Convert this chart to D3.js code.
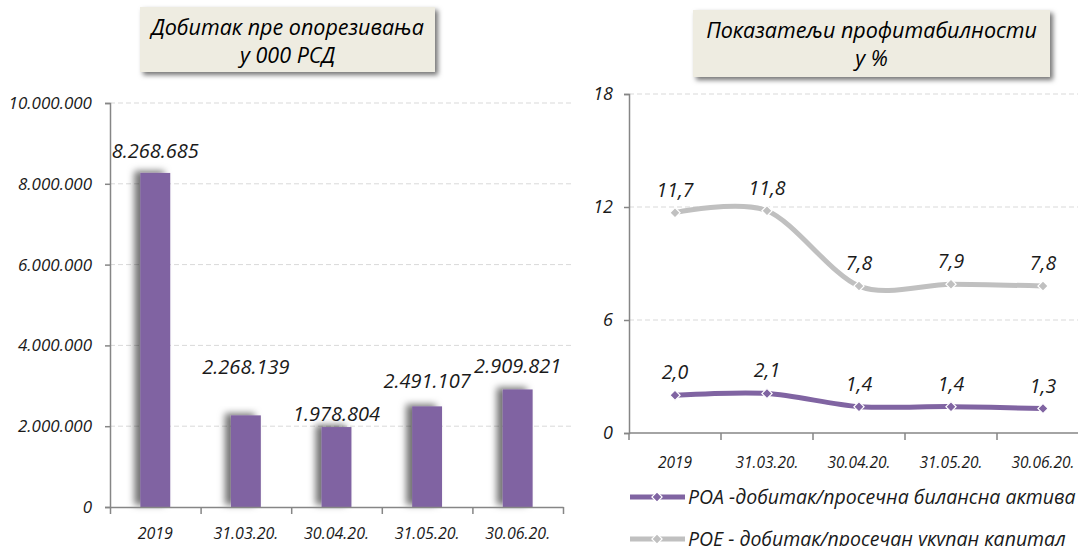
<!DOCTYPE html>
<html>
<head>
<meta charset="utf-8">
<script src="https://cdn.jsdelivr.net/npm/d3@7"></script>
<style>
  html, body { margin: 0; padding: 0; background: #fff; }
  svg { display: block; font-family: "Open Sans", "DejaVu Sans", sans-serif; font-style: italic; }
  svg text { font-family: "Open Sans", "DejaVu Sans", sans-serif; font-style: italic; }
</style>
</head>
<body>
<svg id="chart" width="1081" height="546"></svg>
<script>
// podaci
const categories = ['2019', '31.03.20.', '30.04.20.', '31.05.20.', '30.06.20.'];
const profit = [8268685, 2268139, 1978804, 2491107, 2909821];
const roa = [2.0, 2.1, 1.4, 1.4, 1.3];
const roe = [11.7, 11.8, 7.8, 7.9, 7.8];
const profitTicks = [0, 2000000, 4000000, 6000000, 8000000, 10000000];
const ratioTicks = [0, 6, 12, 18];
const seriesNames = ['РОА -добитак/просечна билансна актива', 'РОЕ - добитак/просечан укупан капитал'];

const loc = d3.formatLocale({ decimal: ',', thousands: '.', grouping: [3], currency: ['', ''] });
const fmtInt = loc.format(',d');
const fmtDec = loc.format('.1f');

const svg = d3.select('#chart');
const PURPLE = '#8064A2', GRAY = '#C0C0C0', AXIS = '#868686', GRID = '#D9D9D9', TXT = '#1a1a1a';

const defs = svg.append('defs');
defs.append('filter').attr('id', 'boxShadow').attr('x', '-10%').attr('y', '-20%').attr('width', '130%').attr('height', '160%')
  .append('feDropShadow').attr('dx', 3).attr('dy', 3).attr('stdDeviation', 2.5)
  .attr('flood-color', '#000').attr('flood-opacity', 0.55);
defs.append('filter').attr('id', 'barShadow').attr('x', '-80%').attr('y', '-10%').attr('width', '200%').attr('height', '120%')
  .append('feDropShadow').attr('dx', -6).attr('dy', -2).attr('stdDeviation', 3.5)
  .attr('flood-color', '#000').attr('flood-opacity', 0.55);

function titleBox(x, y, w, h, lines, size) {
  const g = svg.append('g');
  g.append('rect').attr('x', x).attr('y', y).attr('width', w).attr('height', h)
    .attr('fill', '#EEECE1').attr('filter', 'url(#boxShadow)');
  lines.forEach((t, i) => {
    g.append('text').attr('x', x + w / 2).attr('y', y + 28 + i * 28)
      .attr('text-anchor', 'middle').attr('font-size', size).attr('fill', '#000').text(t);
  });
}

function styleAxis(g, size) {
  g.attr('font-family', null).attr('font-size', null);
  g.select('.domain').attr('stroke', AXIS).attr('stroke-width', 1.5);
  g.selectAll('.tick line').attr('stroke', AXIS).attr('stroke-width', 1.5);
  g.selectAll('text').attr('font-size', size).attr('font-style', 'italic').attr('fill', TXT);
}

// ---------- levi grafikon: dobitak pre oporezivanja ----------
(function () {
  const x0 = 110, x1 = 563;
  const x = d3.scaleBand().domain(categories).range([x0, x1]);
  const y = d3.scaleLinear().domain([0, 10000000]).range([507, 103]);
  const edge = d3.scaleLinear().domain([0, categories.length]).range([x0, x1]);

  const grid = svg.append('g');
  grid.selectAll('line').data(profitTicks.filter(d => d > 0)).join('line')
    .attr('x1', x0).attr('x2', 573).attr('y1', d => y(d)).attr('y2', d => y(d))
    .attr('stroke', GRID).attr('stroke-width', 1).attr('stroke-dasharray', '5,3');

  const barW = x.bandwidth() * 0.33;
  svg.append('g').selectAll('rect').data(profit).join('rect')
    .attr('x', (d, i) => x(categories[i]) + (x.bandwidth() - barW) / 2)
    .attr('y', d => y(d)).attr('width', barW).attr('height', d => y(0) - y(d))
    .attr('fill', PURPLE).attr('filter', 'url(#barShadow)');

  const yAxis = svg.append('g').attr('transform', `translate(${x0},0)`)
    .call(d3.axisLeft(y).tickValues(profitTicks).tickFormat(fmtInt).tickSize(5).tickPadding(13));
  styleAxis(yAxis, 17);

  const xAxis = svg.append('g').attr('transform', `translate(0,${y(0)})`)
    .call(d3.axisBottom(edge).tickValues(d3.range(categories.length + 1)).tickFormat('').tickSize(7).tickSizeOuter(0));
  styleAxis(xAxis, 16);

  svg.append('g').selectAll('text').data(categories).join('text')
    .attr('x', d => x(d) + x.bandwidth() / 2).attr('y', 539)
    .attr('text-anchor', 'middle').attr('font-size', 16).attr('fill', TXT).text(d => d);

  // rucno pomerene etikete kao u originalu
  const lift = [15, 41, 6, 18, 16];
  svg.append('g').selectAll('text').data(profit).join('text')
    .attr('x', (d, i) => x(categories[i]) + x.bandwidth() / 2)
    .attr('y', (d, i) => y(d) - lift[i])
    .attr('text-anchor', 'middle').attr('font-size', 20).attr('fill', TXT).text(d => fmtInt(d));

  titleBox(140, 7, 295, 65, ['Добитак пре опорезивања', 'у 000 РСД'], 21.5);
})();

// ---------- desni grafikon: pokazatelji profitabilnosti ----------
(function () {
  const x0 = 629, xEnd = 1078;
  const x = d3.scaleBand().domain(categories).range([x0, x0 + 92 * categories.length]);
  const y = d3.scaleLinear().domain([0, 18]).range([433, 94]);
  const cx = i => x(categories[i]) + x.bandwidth() / 2;

  svg.append('g').selectAll('line').data(ratioTicks.filter(d => d > 0)).join('line')
    .attr('x1', x0).attr('x2', xEnd).attr('y1', d => y(d)).attr('y2', d => y(d))
    .attr('stroke', GRID).attr('stroke-width', 1).attr('stroke-dasharray', '5,3');

  const yAxis = svg.append('g').attr('transform', `translate(${x0},0)`)
    .call(d3.axisLeft(y).tickValues(ratioTicks).tickSize(5).tickPadding(11));
  styleAxis(yAxis, 18);

  svg.append('line').attr('x1', x0).attr('x2', xEnd).attr('y1', y(0)).attr('y2', y(0))
    .attr('stroke', AXIS).attr('stroke-width', 1.5);
  svg.append('g').selectAll('line').data(d3.range(categories.length)).join('line')
    .attr('x1', i => x0 + i * x.bandwidth()).attr('x2', i => x0 + i * x.bandwidth())
    .attr('y1', y(0)).attr('y2', y(0) + 7).attr('stroke', AXIS).attr('stroke-width', 1.5);

  svg.append('g').selectAll('text').data(categories).join('text')
    .attr('x', (d, i) => cx(i)).attr('y', 468)
    .attr('text-anchor', 'middle').attr('font-size', 15.5).attr('fill', TXT).text(d => d);

  const line = d3.line().x((d, i) => cx(i)).y(d => y(d)).curve(d3.curveCardinal.tension(0.1));
  const diamond = d3.symbol(d3.symbolSquare, 52);

  [[roe, GRAY], [roa, PURPLE]].forEach(([vals, col]) => {
    svg.append('path').datum(vals).attr('d', line)
      .attr('fill', 'none').attr('stroke', col).attr('stroke-width', 5).attr('stroke-linecap', 'round');
    svg.append('g').selectAll('path').data(vals).join('path')
      .attr('d', diamond).attr('transform', (d, i) => `translate(${cx(i)},${y(d)}) rotate(45)`)
      .attr('fill', col).attr('stroke', '#fff').attr('stroke-width', 1.2);
    svg.append('g').selectAll('text').data(vals).join('text')
      .attr('x', (d, i) => cx(i)).attr('y', d => y(d) - 16)
      .attr('text-anchor', 'middle').attr('font-size', 19.5).attr('fill', TXT).text(d => fmtDec(d));
  });

  // legenda
  [[PURPLE, 497], [GRAY, 539]].forEach(([col, ly], i) => {
    const g = svg.append('g');
    g.append('line').attr('x1', 630).attr('x2', 685).attr('y1', ly).attr('y2', ly)
      .attr('stroke', col).attr('stroke-width', 5);
    g.append('path').attr('d', diamond).attr('transform', `translate(657,${ly}) rotate(45)`)
      .attr('fill', col).attr('stroke', '#fff').attr('stroke-width', 1.2);
    g.append('text').attr('x', 688).attr('y', ly + 7).attr('font-size', 19.5).attr('fill', TXT).text(seriesNames[i]);
  });

  titleBox(693, 10, 357, 67, ['Показатељи профитабилности', 'у %'], 21.5);
})();
</script>
</body>
</html>
